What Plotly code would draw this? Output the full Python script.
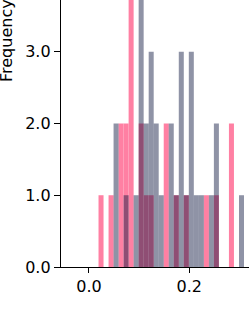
import plotly.graph_objects as go

# Histogram bins (centers, width 0.01)
bin_centers = [0.024, 0.034, 0.044, 0.054, 0.064, 0.074, 0.084, 0.094, 0.104, 0.114,
               0.124, 0.134, 0.144, 0.154, 0.164, 0.174, 0.184, 0.194, 0.204, 0.214,
               0.224, 0.234, 0.244, 0.254, 0.264, 0.274, 0.284, 0.294, 0.304]
bin_width = 0.01

pink_counts = [1, 0, 1, 0, 2, 2, 5, 0, 2, 1, 1, 0, 0, 2, 0, 1, 0, 1, 0, 0, 0, 1, 0, 1, 0, 0, 2, 0, 0]
gray_counts = [0, 0, 0, 2, 0, 1, 0, 1, 6, 2, 3, 2, 1, 0, 2, 1, 3, 1, 3, 1, 1, 0, 1, 2, 0, 0, 0, 0, 1]

x_ticks = [0.0, 0.2]
x_tick_labels = ["0.0", "0.2"]
y_ticks = [0, 1, 2, 3]
y_tick_labels = ["0.0", "1.0", "2.0", "3.0"]

fig = go.Figure()
fig.add_trace(go.Bar(x=bin_centers, y=pink_counts, width=bin_width,
                     marker=dict(color="rgb(255,128,163)", line=dict(width=0))))
fig.add_trace(go.Bar(x=bin_centers, y=gray_counts, width=bin_width,
                     marker=dict(color="rgba(10,20,60,0.46)", line=dict(width=0))))

font = dict(family="DejaVu Sans", size=16, color="#000")
fig.update_layout(
    width=249, height=323,
    margin=dict(l=61, r=0, t=0, b=56),
    barmode="overlay",
    showlegend=False,
    plot_bgcolor="white", paper_bgcolor="white",
    font=font,
)
fig.update_xaxes(range=[-0.0558, 0.319], showgrid=False, zeroline=False,
                 showline=True, linecolor="#000", linewidth=1.3,
                 ticks="outside", ticklen=5, tickwidth=1.3, tickcolor="#000",
                 tickvals=x_ticks, ticktext=x_tick_labels, tickfont=font)
fig.update_yaxes(range=[0, 3.72], showgrid=False, zeroline=False,
                 showline=True, linecolor="#000", linewidth=1.3,
                 ticks="outside", ticklen=6, tickwidth=1.3, tickcolor="#000",
                 tickvals=y_ticks, ticktext=y_tick_labels, tickfont=font)
fig.add_annotation(text="Frequency", textangle=-90, xref="paper", yref="paper",
                   x=0, y=1 - 41 / 267, xshift=-54, xanchor="center", yanchor="middle",
                   showarrow=False, font=font)
fig.write_html("out.html", config={"displayModeBar": False},
               post_script="document.body.style.margin='0';")
